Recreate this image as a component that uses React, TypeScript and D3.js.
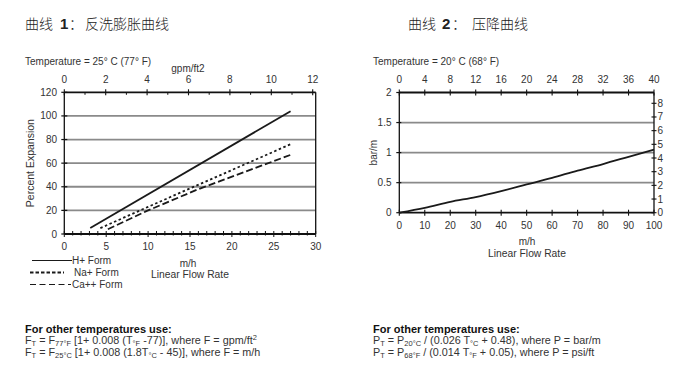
import React from "react";
import * as d3 from "d3";

// ---------- data ----------
const hForm: [number, number][] = [[3.1, 5], [27, 104]];
const naForm: [number, number][] = [[4.3, 5], [10, 23], [27, 76]];
const caForm: [number, number][] = [[5.2, 4], [10, 20], [16, 38], [27, 67]];

const leftYTicks = [0, 20, 40, 60, 80, 100, 120];
const leftXTicks = [0, 5, 10, 15, 20, 25, 30];
const leftTopTicks = [0, 2, 4, 6, 8, 10, 12];

const pdFlow = [0, 10, 20, 30, 40, 50, 60, 70, 80, 90, 100];
const pdBar = [0, 0.08, 0.18, 0.26, 0.36, 0.47, 0.58, 0.7, 0.81, 0.93, 1.05];

const rightYTicks = [0, 0.5, 1, 1.5, 2];
const rightXTicks = [0, 10, 20, 30, 40, 50, 60, 70, 80, 90, 100];
const rightTopTicks = [0, 4, 8, 12, 16, 20, 24, 28, 32, 36, 40];
const rightPsiTicks = [0, 1, 2, 3, 4, 5, 6, 7, 8];

const legendItems = [
  { label: "H+ Form", dash: "none", x1: 32, x2: 72, w: 1 },
  { label: "Na+ Form", dash: "3.5,2", x1: 30, x2: 64, w: 1.8 },
  { label: "Ca++ Form", dash: "6,3.5", x1: 30, x2: 71, w: 1 },
];

const FONT = "'Liberation Sans', Arial, Helvetica, sans-serif";
const CJK = "'Noto Sans CJK SC', sans-serif";
const TXT = "#333";
const FS = 10;

export default function App() {
  // left chart scales
  const lx = d3.scaleLinear().domain([0, 30]).range([64.3, 315.7]);
  const ly = d3.scaleLinear().domain([0, 120]).range([234, 92.3]);
  const lTop = d3.scaleLinear().domain([0, 12]).range([64.3, 312.7]);

  // right chart scales
  const rx = d3.scaleLinear().domain([0, 100]).range([399.3, 654]);
  const ry = d3.scaleLinear().domain([0, 2]).range([212.7, 92.5]);
  const rTop = d3.scaleLinear().domain([0, 40]).range([399.3, 654]);
  const rPsi = d3.scaleLinear().domain([0, 8]).range([212.7, 103.3]);

  const lline = d3
    .line<[number, number]>()
    .x((d) => lx(d[0]))
    .y((d) => ly(d[1]));
  const rline = d3
    .line<number>()
    .x((_, i) => rx(pdFlow[i]))
    .y((d) => ry(d))
    .curve(d3.curveMonotoneX);

  const lMinorBottom = d3.range(0, 31, 1);
  const lMinorTop = d3.range(1, 12, 2);

  const SD = 2;
  const sub = (s: string) => (
    <tspan fontSize={7.5} dy={SD}>{s}</tspan>
  );

  return (
    <svg
      width={683}
      height={383}
      style={{ position: "absolute", left: 0, top: 0, background: "#fff" }}
      fontFamily={FONT}
    >
      <rect x={0} y={0} width={683} height={383} fill="#fff" />
      {/* Titles */}
      <g fill="#222" fontSize={14}>
        <text x={25} y={29} fontFamily={CJK} fontWeight={300}>曲线</text>
        <text x={60} y={29} fontFamily={FONT} fontWeight="bold" fontSize={15}>1</text>
        <text x={69} y={29} fontFamily={CJK} fontWeight={300}>：</text>
        <text x={85} y={29} fontFamily={CJK} fontWeight={300}>反洗膨胀曲线</text>
        <text x={408} y={29} fontFamily={CJK} fontWeight={300}>曲线</text>
        <text x={442} y={29} fontFamily={FONT} fontWeight="bold" fontSize={15}>2</text>
        <text x={452} y={29} fontFamily={CJK} fontWeight={300}>：</text>
        <text x={472} y={29} fontFamily={CJK} fontWeight={300}>压降曲线</text>
      </g>
      <text x={25} y={64.5} fontSize={FS} fill={TXT}>
        Temperature = 25° C (77° F)
      </text>
      <text x={373} y={64.5} fontSize={FS} fill={TXT}>
        Temperature = 20° C (68° F)
      </text>

      {/* ---------- LEFT CHART ---------- */}
      {leftYTicks.slice(1, -1).map((t) => (
        <line key={"lg" + t} x1={lx(0)} x2={lx(30)} y1={ly(t)} y2={ly(t)} stroke="#8a8a8a" strokeWidth={1.8} />
      ))}
      {/* frame */}
      <line x1={lx(0)} x2={lx(0)} y1={ly(0)} y2={ly(120)} stroke="#111" strokeWidth={1.3} />
      <line x1={lx(30)} x2={lx(30)} y1={ly(0)} y2={ly(120)} stroke="#111" strokeWidth={1.3} />
      <line x1={lx(0)} x2={lx(30)} y1={ly(120)} y2={ly(120)} stroke="#111" strokeWidth={1.8} />
      <line x1={lx(0)} x2={lx(30)} y1={ly(0)} y2={ly(0)} stroke="#111" strokeWidth={1.8} />
      {/* left ticks */}
      {leftYTicks.map((t) => (
        <g key={"ly" + t}>
          <line x1={lx(0) - 3} x2={lx(0) + 3} y1={ly(t)} y2={ly(t)} stroke="#111" strokeWidth={1.2} />
          <text x={57} y={ly(t) + 3.5} fontSize={FS} textAnchor="end" fill={TXT}>
            {t}
          </text>
        </g>
      ))}
      {/* bottom ticks */}
      {lMinorBottom.map((t) => (
        <line
          key={"lbm" + t}
          x1={lx(t)}
          x2={lx(t)}
          y1={ly(0) - 3}
          y2={ly(0) + (t % 5 === 0 ? 3 : 1.5)}
          stroke="#111"
          strokeWidth={1}
        />
      ))}
      {leftXTicks.map((t) => (
        <text key={"lbx" + t} x={lx(t)} y={250} fontSize={FS} textAnchor="middle" fill={TXT}>
          {t}
        </text>
      ))}
      {/* top ticks */}
      {leftTopTicks.map((t) => (
        <g key={"lt" + t}>
          <line x1={lTop(t)} x2={lTop(t)} y1={ly(120) - 3} y2={ly(120) + 3} stroke="#111" strokeWidth={1.1} />
          <text x={lTop(t)} y={83} fontSize={FS} textAnchor="middle" fill={TXT}>
            {t}
          </text>
        </g>
      ))}
      {lMinorTop.map((t) => (
        <line key={"ltm" + t} x1={lTop(t)} x2={lTop(t)} y1={ly(120)} y2={ly(120) + 2.5} stroke="#111" strokeWidth={1} />
      ))}
      <text x={188} y={72} fontSize={FS} textAnchor="middle" fill={TXT}>
        gpm/ft2
      </text>
      <text
        transform={`translate(34,${ly(60)}) rotate(-90)`}
        fontSize={10.5}
        textAnchor="middle"
        fill={TXT}
      >
        Percent Expansion
      </text>
      {/* data lines */}
      <path d={lline(hForm) || ""} fill="none" stroke="#1a1a1a" strokeWidth={1.8} />
      <path d={lline(naForm) || ""} fill="none" stroke="#1a1a1a" strokeWidth={1.8} strokeDasharray="2.5,2.5" />
      <path d={lline(caForm) || ""} fill="none" stroke="#1a1a1a" strokeWidth={1.8} strokeDasharray="7,3" />
      {/* legend */}
      {legendItems.map((it, i) => (
        <g key={it.label}>
          <line
            x1={it.x1}
            x2={it.x2}
            y1={260.5 + i * 12}
            y2={260.5 + i * 12}
            stroke="#1a1a1a"
            strokeWidth={it.w}
            strokeDasharray={it.dash}
          />
          <text x={i === 1 ? 74 : 72} y={264 + i * 12} fontSize={FS} fill={TXT}>
            {it.label}
          </text>
        </g>
      ))}
      <text x={188} y={267} fontSize={FS} textAnchor="middle" fill={TXT}>
        m/h
      </text>
      <text x={190} y={277.5} fontSize={10.3} textAnchor="middle" fill={TXT}>
        Linear Flow Rate
      </text>

      {/* ---------- RIGHT CHART ---------- */}
      {rightYTicks.slice(1, -1).map((t) => (
        <line key={"rg" + t} x1={rx(0)} x2={rx(100)} y1={ry(t)} y2={ry(t)} stroke="#8a8a8a" strokeWidth={1.8} />
      ))}
      <line x1={rx(0)} x2={rx(0)} y1={ry(0)} y2={ry(2)} stroke="#111" strokeWidth={1.3} />
      <line x1={rx(100)} x2={rx(100)} y1={ry(0)} y2={ry(2)} stroke="#111" strokeWidth={1.3} />
      <line x1={rx(0)} x2={rx(100)} y1={ry(2)} y2={ry(2)} stroke="#111" strokeWidth={1.8} />
      <line x1={rx(0)} x2={rx(100)} y1={ry(0)} y2={ry(0)} stroke="#111" strokeWidth={1.8} />
      {rightYTicks.map((t) => (
        <g key={"ry" + t}>
          <line x1={rx(0) - 3} x2={rx(0) + 2} y1={ry(t)} y2={ry(t)} stroke="#111" strokeWidth={1.2} />
          <text x={391.5} y={ry(t) + 3.5} fontSize={FS} textAnchor="end" fill={TXT}>
            {t}
          </text>
        </g>
      ))}
      {rightXTicks.map((t) => (
        <g key={"rx" + t}>
          <line x1={rx(t)} x2={rx(t)} y1={ry(0) - 3} y2={ry(0) + 3} stroke="#111" strokeWidth={1.1} />
          <text x={rx(t)} y={229} fontSize={FS} textAnchor="middle" fill={TXT}>
            {t}
          </text>
        </g>
      ))}
      {rightTopTicks.map((t) => (
        <g key={"rt" + t}>
          <line x1={rTop(t)} x2={rTop(t)} y1={ry(2) - 3} y2={ry(2) + 3} stroke="#111" strokeWidth={1.1} />
          <text x={rTop(t)} y={83} fontSize={FS} textAnchor="middle" fill={TXT}>
            {t}
          </text>
        </g>
      ))}
      {rightPsiTicks.map((t) => (
        <g key={"rp" + t}>
          <line x1={rx(100) - 2.5} x2={rx(100) + 2.5} y1={rPsi(t)} y2={rPsi(t)} stroke="#111" strokeWidth={1.1} />
          <text x={657.5} y={rPsi(t) + 3.5} fontSize={FS} textAnchor="start" fill={TXT}>
            {t}
          </text>
        </g>
      ))}
      <text
        transform={`translate(377,${ry(1)}) rotate(-90)`}
        fontSize={FS}
        textAnchor="middle"
        fill={TXT}
      >
        bar/m
      </text>
      <path d={rline(pdBar) || ""} fill="none" stroke="#1a1a1a" strokeWidth={1.8} />
      <text x={527} y={245} fontSize={FS} textAnchor="middle" fill={TXT}>
        m/h
      </text>
      <text x={527} y={256.5} fontSize={10.3} textAnchor="middle" fill={TXT}>
        Linear Flow Rate
      </text>

      {/* ---------- formulas ---------- */}
      <text x={25} y={333} fontSize={11} fontWeight="bold" fill="#111">
        For other temperatures use:
      </text>
      <g fontSize={10.8} fill={TXT}>
        <text x={25} y={343.5}>
          F{sub("T")}
          <tspan dy={-SD}> = F</tspan>
          {sub("77°F")}
          <tspan dy={-SD}> [1+ 0.008 (T</tspan>
          {sub("°F")}
          <tspan dy={-SD}> -77)], where F = gpm/ft</tspan>
          <tspan fontSize={7.5} dy={-3.5}>2</tspan>
        </text>
        <text x={25} y={356}>
          F{sub("T")}
          <tspan dy={-SD}> = F</tspan>
          {sub("25°C")}
          <tspan dy={-SD}> [1+ 0.008 (1.8T</tspan>
          {sub("°C")}
          <tspan dy={-SD}> - 45)], where F = m/h</tspan>
        </text>
      </g>

      <text x={373} y={333} fontSize={11} fontWeight="bold" fill="#111">
        For other temperatures use:
      </text>
      <g fontSize={10.8} fill={TXT}>
        <text x={373} y={343.5}>
          P{sub("T")}
          <tspan dy={-SD}> = P</tspan>
          {sub("20°C")}
          <tspan dy={-SD}> / (0.026 T</tspan>
          {sub("°C")}
          <tspan dy={-SD}> + 0.48), where P = bar/m</tspan>
        </text>
        <text x={373} y={356}>
          P{sub("T")}
          <tspan dy={-SD}> = P</tspan>
          {sub("68°F")}
          <tspan dy={-SD}> / (0.014 T</tspan>
          {sub("°F")}
          <tspan dy={-SD}> + 0.05), where P = psi/ft</tspan>
        </text>
      </g>
    </svg>
  );
}
